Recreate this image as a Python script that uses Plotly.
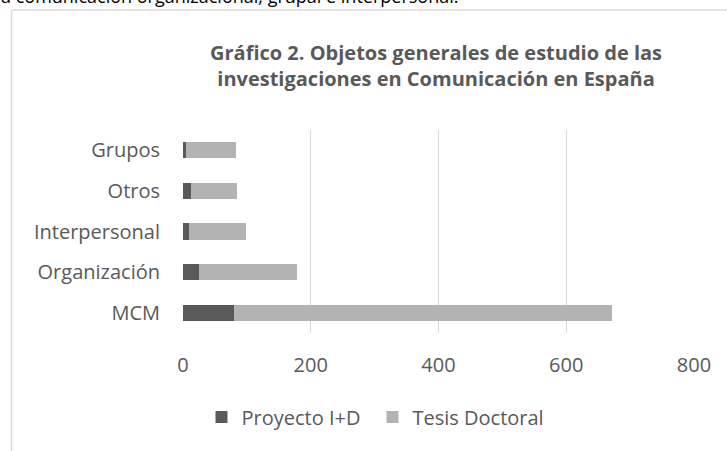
import plotly.graph_objects as go

categorias = ["MCM", "Organización", "Interpersonal", "Otros", "Grupos"]
proyecto_id = [80, 25, 10, 12, 5]
tesis_doctoral = [591, 153, 89, 73, 78]
x_ticks = [0, 200, 400, 600, 800]

W, H = 727, 451
L, R, T, B = 182.5, 33.4, 130, 118
pw, ph = W - L - R, H - T - B

def px(xp):
    return (xp - L) / pw

def py(yp):
    return (H - B - yp) / ph

FONT = "Open Sans"
GRAY = "#595959"

fig = go.Figure()
fig.add_trace(go.Bar(y=categorias, x=proyecto_id, orientation="h", name="Proyecto I+D",
                     marker=dict(color="#5a5a5a", line=dict(width=0))))
fig.add_trace(go.Bar(y=categorias, x=tesis_doctoral, orientation="h", name="Tesis Doctoral",
                     marker=dict(color="#b3b3b3", line=dict(width=0))))

fig.update_layout(
    width=W, height=H,
    margin=dict(l=L, r=R, t=T, b=B, pad=0),
    barmode="stack", bargap=0.6,
    paper_bgcolor="white", plot_bgcolor="white",
    font=dict(family=FONT, color=GRAY, size=20),
    showlegend=True,
    legend=dict(orientation="h", x=px(201), xanchor="left", y=py(417), yanchor="middle",
                font=dict(size=20, color=GRAY), itemwidth=30, traceorder="normal",
                entrywidth=126, entrywidthmode="pixels"),
    xaxis=dict(range=[0, 800], tickvals=x_ticks, ticktext=[str(v) for v in x_ticks],
               showgrid=True, gridcolor="#d9d9d9", gridwidth=1, zeroline=False,
               showline=False, ticks="", ticklabelstandoff=18,
               tickfont=dict(size=20, color=GRAY)),
    yaxis=dict(categoryorder="array", categoryarray=categorias, showgrid=False,
               zeroline=False, showline=False, ticks="", ticklabelstandoff=22,
               tickfont=dict(size=20, color=GRAY)),
    annotations=[
        dict(text="<b>Gráfico 2. Objetos generales de estudio de las<br>investigaciones en Comunicación en España</b>",
             xref="paper", yref="paper", x=px(436), y=py(65), xanchor="center", yanchor="middle",
             showarrow=False, font=dict(size=20, color=GRAY, family=FONT), align="center"),
        dict(text="a comunicación organizacional, grupal e interpersonal.",
             xref="paper", yref="paper", x=px(-2), y=py(-4), xanchor="left", yanchor="middle",
             showarrow=False, font=dict(size=18, color="black", family=FONT)),
    ],
    shapes=[
        dict(type="line", xref="paper", yref="paper", x0=px(11), x1=px(740), y0=py(10), y1=py(10),
             line=dict(color="#d9d9d9", width=1.5)),
        dict(type="line", xref="paper", yref="paper", x0=px(11), x1=px(11), y0=py(10), y1=py(460),
             line=dict(color="#d9d9d9", width=1.5)),
    ],
)

fig.write_html("out.html", config={"displayModeBar": False},
               post_script="document.body.style.margin='0';")
